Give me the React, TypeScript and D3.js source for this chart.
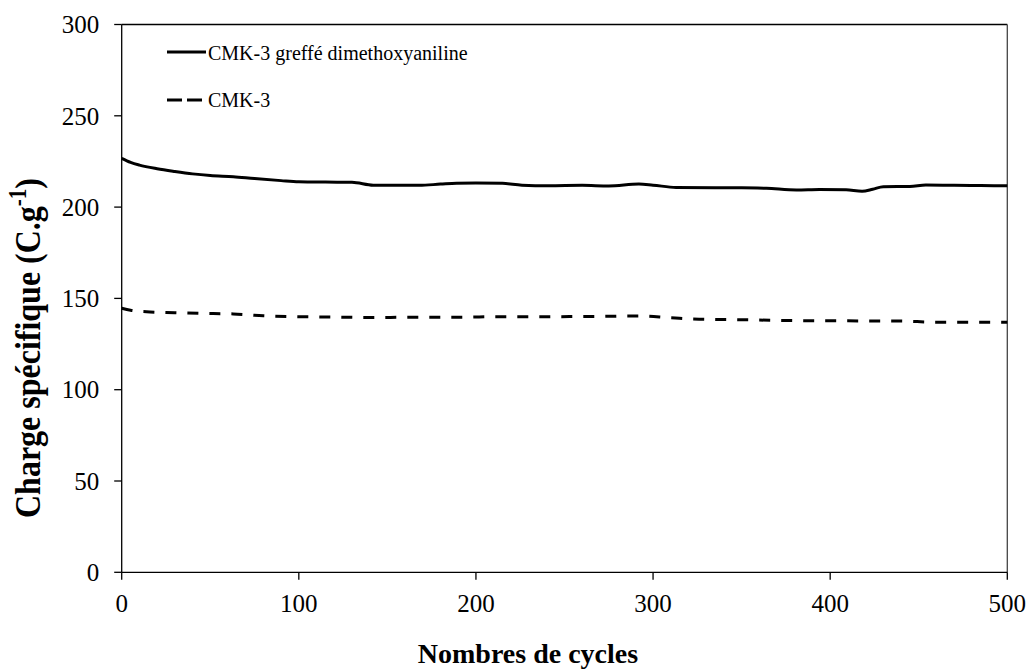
import React from "react";
import * as d3 from "d3";

const graftedCycles = [0, 5, 10, 20, 30, 40, 50, 63, 75, 90, 100, 115, 130, 142, 155, 168, 180, 189, 200, 215, 226, 241, 260, 275, 292, 300, 313, 335, 350, 364, 381, 394, 409, 418, 424, 430, 445, 454, 470, 485, 500];
const graftedValues = [226.7, 224.5, 223, 221, 219.5, 218.2, 217.3, 216.6, 215.6, 214.5, 213.9, 213.7, 213.6, 212, 211.9, 211.9, 212.6, 213.1, 213.2, 213, 212, 211.7, 211.9, 211.6, 212.6, 212.0, 210.8, 210.6, 210.6, 210.3, 209.4, 209.7, 209.5, 208.7, 209.8, 211.2, 211.3, 212.1, 211.9, 211.8, 211.7];

const cmkCycles = [0, 5, 16, 30, 45, 63, 80, 100, 120, 142, 165, 189, 215, 240, 265, 292, 310, 326, 350, 382, 410, 439, 460, 480, 500];
const cmkValues = [144.6, 143.5, 142.6, 142.2, 141.8, 141.5, 140.5, 140, 139.8, 139.5, 139.7, 139.7, 140, 140, 140.1, 140.4, 139.4, 138.6, 138.3, 137.8, 137.7, 137.6, 137, 137, 136.9];

const xTicks = [0, 100, 200, 300, 400, 500];
const yTicks = [0, 50, 100, 150, 200, 250, 300];

const seriesNames = ["CMK-3 greffé dimethoxyaniline", "CMK-3"];

const W = 1032;
const H = 670;
const left = 121.7;
const right = 1007.3;
const top = 24.5;
const bottom = 572.3;
const FONT = '"Liberation Serif", "Times New Roman", monospace';

export default function App() {
  const x = d3.scaleLinear().domain([0, 500]).range([left, right]);
  const y = d3.scaleLinear().domain([0, 300]).range([bottom, top]);
  const line = d3
    .line<[number, number]>()
    .x((d) => x(d[0]))
    .y((d) => y(d[1]))
    .curve(d3.curveMonotoneX);
  const g1 = graftedCycles.map((c, i) => [c, graftedValues[i]] as [number, number]);
  const g2 = cmkCycles.map((c, i) => [c, cmkValues[i]] as [number, number]);
  const ts = { fontFamily: FONT };

  return (
    <svg width={W} height={H} style={{ position: "absolute", left: 0, top: 0, background: "#fff" }}>
      <rect x={0} y={0} width={W} height={H} fill="#fff" />
      {/* frame */}
      <line x1={left} x2={right} y1={top} y2={top} stroke="#000" strokeWidth={1.3} />
      <line x1={right} x2={right} y1={top} y2={bottom} stroke="#444" strokeWidth={1.3} />
      <line x1={left} x2={left} y1={top} y2={bottom} stroke="#000" strokeWidth={1.3} />
      <line x1={left} x2={right} y1={bottom} y2={bottom} stroke="#000" strokeWidth={1.3} />
      {yTicks.map((t) => (
        <g key={"y" + t}>
          <line x1={left - 7.5} x2={left} y1={y(t)} y2={y(t)} stroke="#000" strokeWidth={1.3} />
          <text x={left - 22.5} y={y(t)} dy="0.35em" textAnchor="end" fontSize={25} style={ts}>
            {t}
          </text>
        </g>
      ))}
      {xTicks.map((t) => (
        <g key={"x" + t}>
          <line x1={x(t)} x2={x(t)} y1={bottom} y2={bottom + 7.5} stroke="#000" strokeWidth={1.3} />
          <text x={x(t)} y={bottom + 40} textAnchor="middle" fontSize={25} style={ts}>
            {t}
          </text>
        </g>
      ))}
      <path d={line(g1) || ""} fill="none" stroke="#000" strokeWidth={3} />
      <path d={line(g2) || ""} fill="none" stroke="#000" strokeWidth={3} strokeDasharray="11,11" />
      {/* legend */}
      <line x1={167} x2={206} y1={52} y2={52} stroke="#000" strokeWidth={3} />
      <text x={208} y={60} fontSize={20} style={ts}>{seriesNames[0]}</text>
      <line x1={167} x2={206} y1={100} y2={100} stroke="#000" strokeWidth={3} strokeDasharray="15,5" />
      <text x={208} y={107} fontSize={20} style={ts}>{seriesNames[1]}</text>
      {/* titles */}
      <text
        transform={`translate(40, 348) rotate(-90) scale(1, 1.15)`}
        textAnchor="middle"
        fontSize={32}
        fontWeight="bold"
        style={ts}
      >
        Charge spécifique (C.g
        <tspan fontSize={21} dy={-12}>-1</tspan>
        <tspan dy={12}>)</tspan>
      </text>
      <text x={528} y={663} textAnchor="middle" fontSize={28} fontWeight="bold" style={ts}>
        Nombres de cycles
      </text>
    </svg>
  );
}
